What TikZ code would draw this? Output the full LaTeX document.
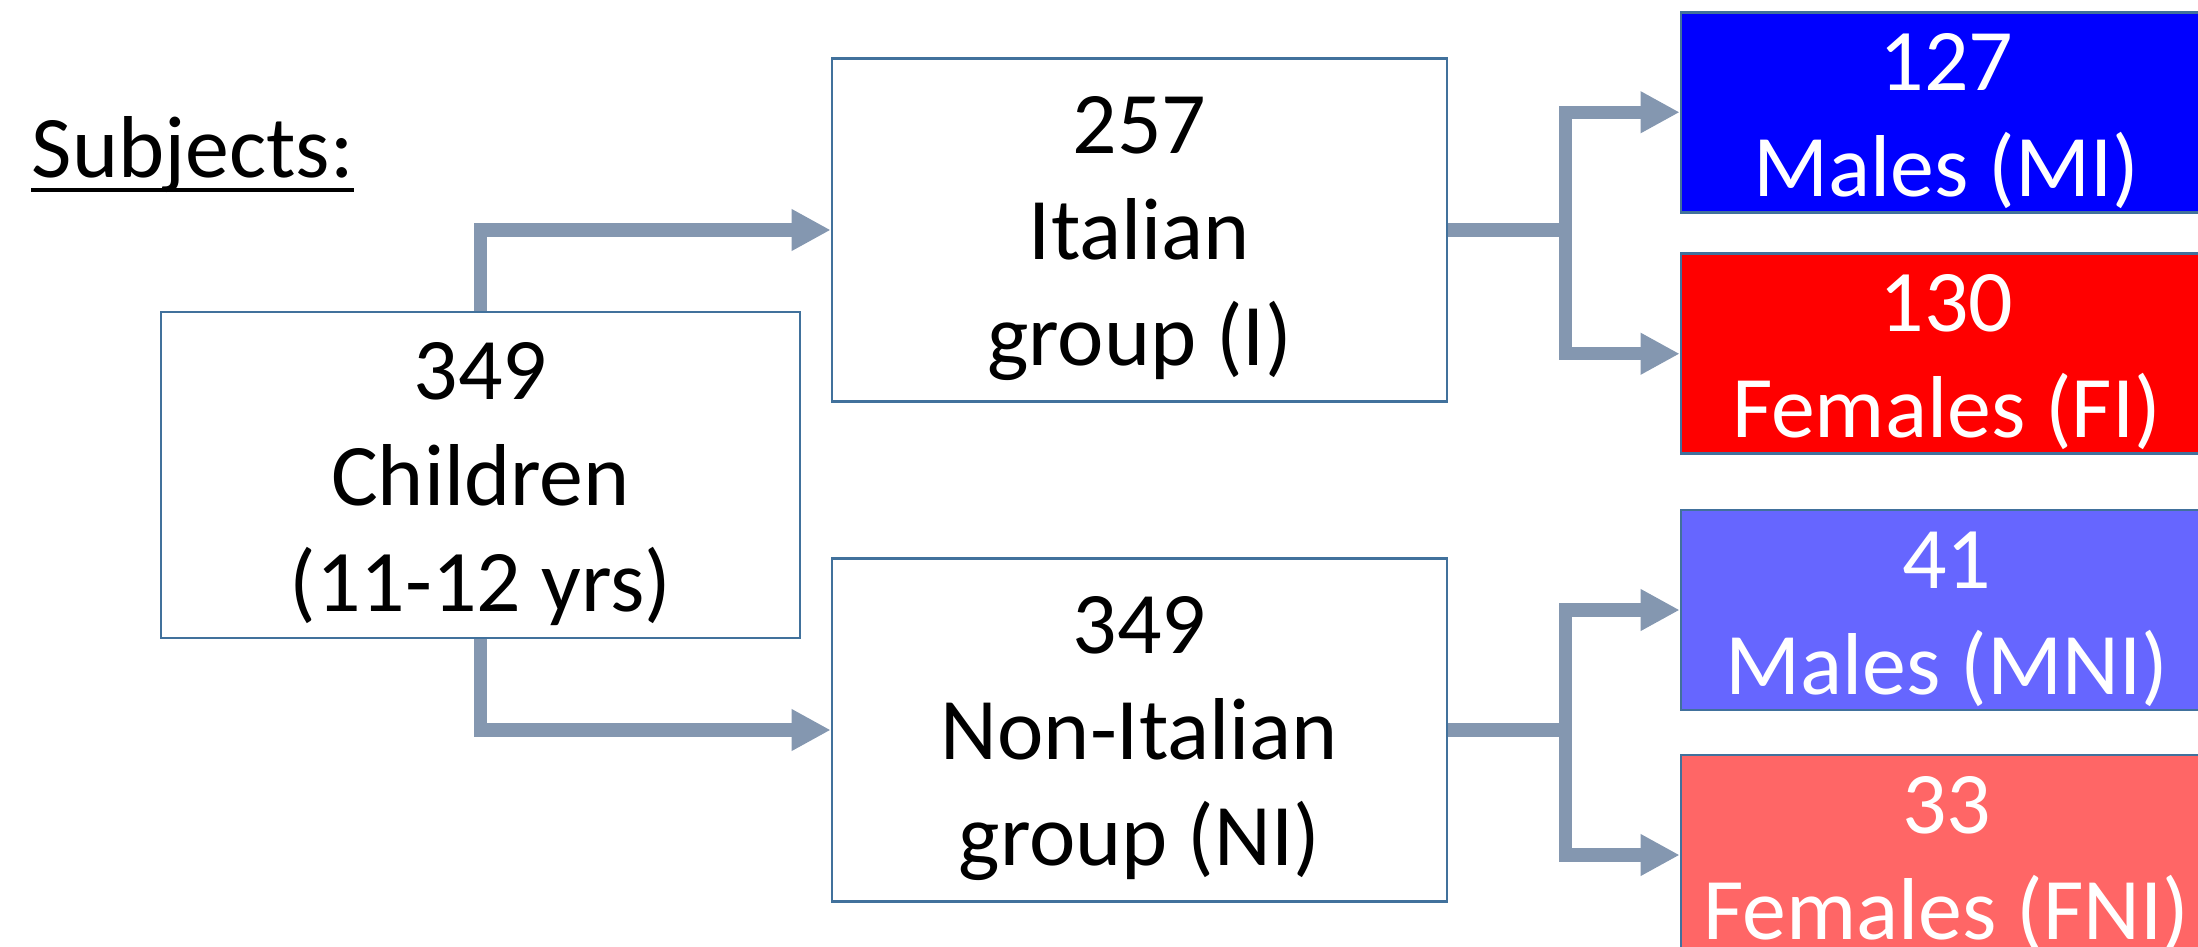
\documentclass[tikz,border=0pt]{standalone}
\usepackage{fontspec}
\setmainfont{Carlito}
\usetikzlibrary{arrows.meta}
\definecolor{boxline}{HTML}{41719C}
\definecolor{flow}{HTML}{8497B0}
\definecolor{maleit}{HTML}{0000FF}
\definecolor{femit}{HTML}{FF0000}
\definecolor{malenon}{HTML}{6666FF}
\definecolor{femnon}{HTML}{FF6666}

\begin{document}
\begin{tikzpicture}[
    grp/.style={draw=boxline, line width=0.75pt, fill=white, align=center, inner sep=0pt,
        font=\fontsize{25pt}{30.16pt}\selectfont},
    sub/.style={grp, text=white, minimum width=5.31cm, minimum height=2cm},
    flowline/.style={draw=flow, line width=3.78pt},
    flowarr/.style={flowline, -{Triangle[length=0.39cm, width=0.39cm]}}
]
    \useasboundingbox (0,0) rectangle (21.98,9.46);
    \clip (0,0) rectangle (21.98,9.46);

    \node[font=\fontsize{25pt}{30pt}\selectfont, anchor=base west, inner sep=0pt] (subj) at (0.31,7.686) {Subjects:};
    \draw[line width=1.3pt] ([yshift=-0.126cm]subj.base west) -- ([yshift=-0.126cm]subj.base east);

    \node[grp, minimum width=6.39cm, minimum height=3.26cm] (kids) at (4.805,4.71) {\strut 349\\Children\\(11-12 yrs)};
    \node[grp, minimum width=6.15cm, minimum height=3.43cm] (ital) at (11.395,7.16) {\strut 257\\Italian\\group (I)};
    \node[grp, minimum width=6.15cm, minimum height=3.43cm] (nonit) at (11.395,2.16) {\strut 349\\Non-Italian\\group (NI)};

    \node[sub, fill=maleit] (mi) at (19.465,8.3375) {\strut 127\\Males (MI)};
    \node[sub, fill=femit] (fi) at (19.465,5.9225) {\strut 130\\Females (FI)};
    \node[sub, fill=malenon] (mni) at (19.465,3.36) {\strut 41\\Males (MNI)};
    \node[sub, fill=femnon] (fni) at (19.465,0.91) {\strut 33\\Females (FNI)};

    \draw[flowarr] (kids.north) |- (ital.west);
    \draw[flowarr] (kids.south) |- (nonit.west);

    \draw[flowline] (ital.east) -- ++(1.175,0) coordinate (isplit);
    \draw[flowarr] (isplit) |- (mi.west);
    \draw[flowarr] (isplit) |- (fi.west);

    \draw[flowline] (nonit.east) -- ++(1.175,0) coordinate (nsplit);
    \draw[flowarr] (nsplit) |- (mni.west);
    \draw[flowarr] (nsplit) |- (fni.west);
\end{tikzpicture}
\end{document}
